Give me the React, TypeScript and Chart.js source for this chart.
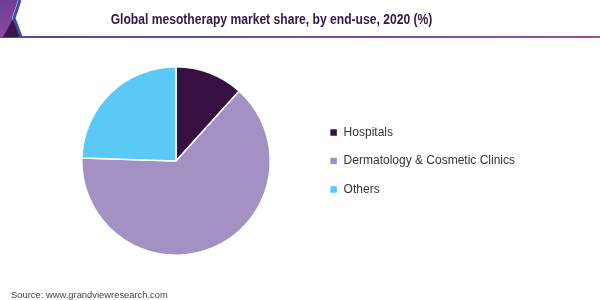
import React, { useEffect, useRef } from "react";
import { Chart, registerables } from "chart.js";

Chart.register(...registerables);

const categories = ["Hospitals", "Dermatology & Cosmetic Clinics", "Others"];
const shares = [11.7, 63.8, 24.5];
const colors = ["#361043", "#a391c4", "#5bc9f5"];
const titleText = "Global mesotherapy market share, by end-use, 2020 (%)";
const sourceText = "Source: www.grandviewresearch.com";

const headerPlugin = {
  id: "header",
  afterDraw(chart: any) {
    const ctx = chart.ctx as CanvasRenderingContext2D;
    ctx.save();
    // header bottom line
    const lg = ctx.createLinearGradient(0, 0, 600, 0);
    lg.addColorStop(0, "#4b4f9e");
    lg.addColorStop(1, "#9b4f9d");
    ctx.fillStyle = lg;
    ctx.fillRect(0, 36, 600, 2);
    // logo purple block
    const pg = ctx.createLinearGradient(0, 0, 0, 37);
    pg.addColorStop(0, "#6b3f97");
    pg.addColorStop(1, "#8d4a9f");
    ctx.fillStyle = pg;
    ctx.beginPath();
    ctx.moveTo(0, 0);
    ctx.lineTo(18, 0);
    ctx.lineTo(12, 18);
    ctx.lineTo(19, 37);
    ctx.lineTo(0, 37);
    ctx.closePath();
    ctx.fill();
    // dark triangle
    ctx.fillStyle = "#3a1650";
    ctx.beginPath();
    ctx.moveTo(3, 37);
    ctx.lineTo(13, 19);
    ctx.lineTo(21, 37);
    ctx.closePath();
    ctx.fill();
    // blue chevron stripe
    ctx.strokeStyle = "#3d4ea0";
    ctx.lineWidth = 3;
    ctx.beginPath();
    ctx.moveTo(20, 0);
    ctx.lineTo(14, 18);
    ctx.lineTo(21, 37);
    ctx.stroke();
    // title
    ctx.fillStyle = "#2e1a47";
    ctx.textAlign = "center";
    ctx.textBaseline = "alphabetic";
    ctx.font = "bold 14px 'Liberation Sans', Arial, sans-serif";
    ctx.translate(271.5, 24);
    ctx.scale(0.865, 1);
    ctx.fillText(titleText, 0, 0);
    ctx.restore();
    // source
    ctx.save();
    ctx.fillStyle = "#444444";
    ctx.textAlign = "left";
    ctx.textBaseline = "middle";
    ctx.font = "9.4px 'Liberation Sans', Arial, sans-serif";
    ctx.fillText(sourceText, 11, 295);
    ctx.restore();
  },
};

export default function App() {
  const ref = useRef<HTMLCanvasElement | null>(null);
  useEffect(() => {
    document.body.style.margin = "0";
    const chart = new Chart(ref.current as HTMLCanvasElement, {
      type: "pie",
      data: {
        labels: categories,
        datasets: [
          {
            data: shares,
            backgroundColor: colors,
            borderColor: "#ffffff",
            borderWidth: 1.5,
          },
        ],
      },
      options: {
        animation: false,
        responsive: false,
        events: [],
        layout: { padding: { left: 39, right: 75, top: 66, bottom: 44 } },
        plugins: {
          title: { display: false },
          tooltip: { enabled: false },
          legend: {
            display: true,
            position: "right",
            align: "center",
            labels: {
              boxWidth: 8,
              boxHeight: 8,
              padding: 16.6,
              color: "#333333",
              font: { family: "'Liberation Sans', Arial, sans-serif", size: 12 },
            },
          },
        },
      },
      plugins: [headerPlugin],
    });
    return () => chart.destroy();
  }, []);
  return (
    <div style={{ width: 600, height: 300, background: "#ffffff" }}>
      <canvas ref={ref} width={600} height={300} style={{ display: "block" }} />
    </div>
  );
}
